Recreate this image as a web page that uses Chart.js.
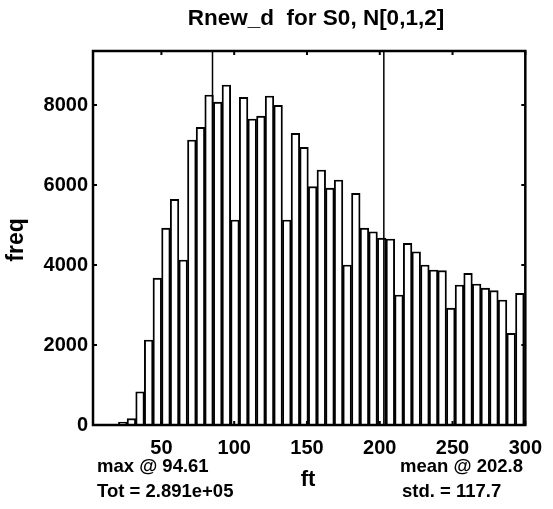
<!DOCTYPE html>
<html>
<head>
<meta charset="utf-8">
<script src="https://cdn.jsdelivr.net/npm/chart.js@4/dist/chart.umd.min.js"></script>
<style>
  html, body { margin: 0; padding: 0; background: #fff; }
</style>
</head>
<body>
<canvas id="myChart" width="553" height="509"></canvas>
<script>
// bin centres (ft) and counts
const binCenters = [5.66, 11.59, 17.52, 23.45, 29.38, 35.31, 41.24, 47.17, 53.10, 59.03,
  64.96, 70.89, 76.82, 82.75, 88.68, 94.61, 100.54, 106.47, 112.40, 118.33,
  124.26, 130.19, 136.12, 142.05, 147.98, 153.91, 159.84, 165.77, 171.70, 177.63,
  183.56, 189.49, 195.42, 201.35, 207.28, 213.21, 219.14, 225.07, 231.00, 236.93,
  242.86, 248.79, 254.72, 260.65, 266.58, 272.51, 278.44, 284.37, 290.30, 296.23];
const freq = [0, 0, 15, 70, 160, 830, 2125, 3670, 4920, 5640,
  4125, 7125, 7440, 8250, 8070, 8500, 5125, 8190, 7650, 7720,
  8225, 7990, 5125, 7290, 6940, 5960, 6375, 5920, 6125, 4000,
  5790, 4920, 4830, 4670, 4650, 3250, 4540, 4330, 4000, 3875,
  3860, 2920, 3500, 3790, 3525, 3420, 3360, 3125, 2290, 3290];
const xTicks = [50, 100, 150, 200, 250, 300];
const yTicks = [0, 2000, 4000, 6000, 8000];

const titleText = 'Rnew_d  for S0, N[0,1,2]';
const maxAt = '94.61';
const totText = '2.891e+05';
const meanVal = 202.8;
const stdVal = 117.7;

const FONT = '"Liberation Sans", Arial, sans-serif';
Chart.defaults.font.family = FONT;
Chart.defaults.font.weight = 'bold';
Chart.defaults.font.size = 20;
Chart.defaults.color = '#000';

const markerLines = [meanVal - stdVal, meanVal];

const frameAndText = {
  id: 'frameAndText',
  afterDraw(chart) {
    const ctx = chart.ctx;
    const a = chart.chartArea;
    const x = chart.scales.x, y = chart.scales.y;
    ctx.save();
    ctx.strokeStyle = '#000';
    ctx.lineWidth = 2.5;
    ctx.strokeRect(a.left, a.top, a.right - a.left, a.bottom - a.top);
    ctx.lineWidth = 2;
    ctx.beginPath();
    yTicks.forEach(v => {
      const py = y.getPixelForValue(v);
      ctx.moveTo(a.left, py); ctx.lineTo(a.left + 4, py);
      ctx.moveTo(a.right - 4, py); ctx.lineTo(a.right, py);
    });
    xTicks.forEach(v => {
      const px = x.getPixelForValue(v);
      ctx.moveTo(px, a.top); ctx.lineTo(px, a.top + 4);
      ctx.moveTo(px, a.bottom); ctx.lineTo(px, a.bottom - 4);
    });
    ctx.stroke();

    ctx.fillStyle = '#000';
    ctx.textBaseline = 'middle';
    ctx.font = 'bold 22.5px ' + FONT;
    ctx.textAlign = 'center';
    ctx.fillText(titleText, 316, 19);

    ctx.font = 'bold 18.5px ' + FONT;
    ctx.textAlign = 'left';
    ctx.fillText('max @ ' + maxAt, 97, 467);
    ctx.fillText('Tot = ' + totText, 97, 492);
    ctx.fillText('mean @ ' + meanVal, 400, 467);
    ctx.fillText('std. = ' + stdVal, 402, 492);
    ctx.font = 'bold 22px ' + FONT;
    ctx.textAlign = 'center';
    ctx.fillText('ft', 308, 480);

    ctx.font = 'bold 23px ' + FONT;
    ctx.translate(17, 240);
    ctx.rotate(-Math.PI / 2);
    ctx.fillText('freq', 0, 0);
    ctx.restore();
  }
};

const bars = binCenters.map((c, i) => ({ x: c, y: freq[i] }));
const lineSets = markerLines.map(v => ({
  type: 'line',
  data: [{ x: v, y: 0 }, { x: v, y: 9350 }],
  borderColor: '#000',
  borderWidth: 1.5,
  pointRadius: 0,
  order: 0
}));

new Chart('myChart', {
  type: 'bar',
  data: {
    datasets: [{
      data: bars,
      backgroundColor: '#fff',
      borderColor: '#000',
      borderWidth: 1.9,
      barPercentage: 1,
      categoryPercentage: 1,
      order: 1
    }].concat(lineSets)
  },
  options: {
    responsive: false,
    animation: false,
    devicePixelRatio: 1,
    layout: { padding: { top: 51, right: 23, left: 0, bottom: 0 } },
    plugins: { legend: { display: false }, tooltip: { enabled: false } },
    scales: {
      x: {
        type: 'linear',
        offset: false,
        min: 3,
        max: 300,
        grid: { display: false, drawTicks: false },
        border: { display: false },
        ticks: { padding: 11, maxRotation: 0, callback: v => String(v) },
        afterBuildTicks: s => { s.ticks = xTicks.map(v => ({ value: v })); },
        afterFit: s => { s.height = 84; }
      },
      y: {
        min: 0,
        max: 9350,
        grid: { display: false, drawTicks: false },
        border: { display: false },
        ticks: { padding: 5, callback: v => String(v) },
        afterBuildTicks: s => { s.ticks = yTicks.map(v => ({ value: v })); },
        afterFit: s => { s.width = 93; }
      }
    }
  },
  plugins: [frameAndText]
});
</script>
</body>
</html>
